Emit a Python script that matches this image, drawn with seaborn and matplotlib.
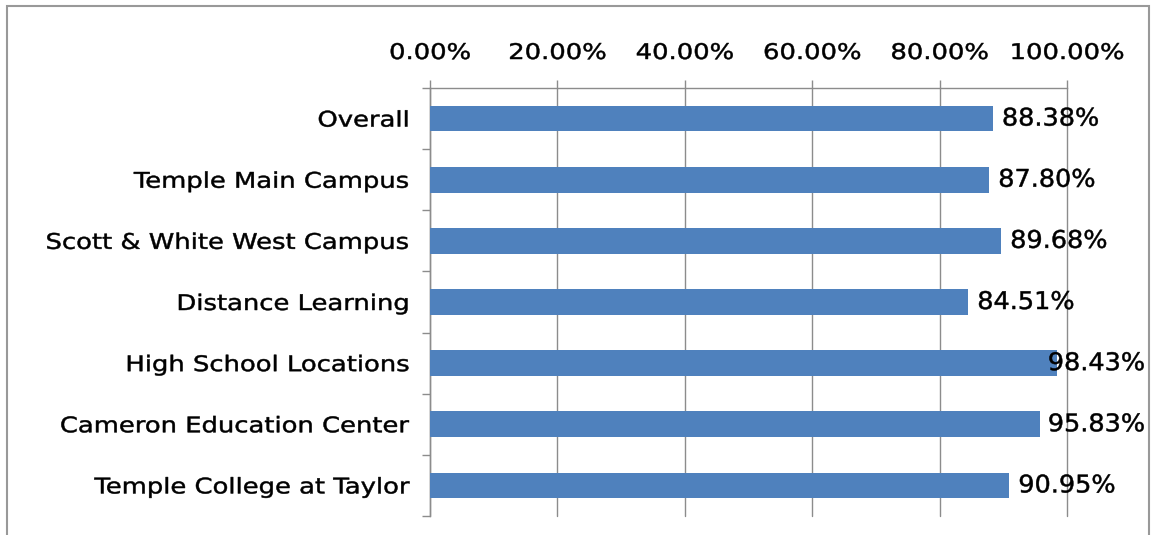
import matplotlib
matplotlib.use("Agg")
import numpy as np
import matplotlib.pyplot as plt
import matplotlib.patches as patches
from matplotlib.ticker import FixedLocator, PercentFormatter
from matplotlib.patheffects import AbstractPathEffect
from matplotlib.path import Path
from matplotlib.transforms import IdentityTransform
import seaborn as sns
import pandas as pd

categories = ["Overall", "Temple Main Campus", "Scott & White West Campus",
              "Distance Learning", "High School Locations",
              "Cameron Education Center", "Temple College at Taylor"]
values = [88.38, 87.80, 89.68, 84.51, 98.43, 95.83, 90.95]
x_ticks = [0, 20, 40, 60, 80, 100]

df = pd.DataFrame({"category": categories, "value": values})


class HStretch(AbstractPathEffect):
    """Widen rendered text horizontally about an anchor (emulates wide tracking)."""
    def __init__(self, sx, anchor, stroke=0.35):
        super().__init__()
        self.sx = sx
        self.anchor = anchor
        self.stroke = stroke

    def draw_path(self, renderer, gc, tpath, affine, rgbFace=None):
        verts = affine.transform(tpath.vertices).copy()
        codes = tpath.codes
        if codes is not None:
            mask = codes != Path.CLOSEPOLY
        else:
            mask = np.ones(len(verts), bool)
        if mask.any():
            xs = verts[mask, 0]
            xmin, xmax = xs.min(), xs.max()
            ref = {"left": xmin, "right": xmax, "center": 0.5 * (xmin + xmax)}[self.anchor]
            verts[:, 0] = ref + (verts[:, 0] - ref) * self.sx
        gc0 = renderer.new_gc()
        gc0.copy_properties(gc)
        gc0.set_linewidth(self.stroke)
        if rgbFace is not None:
            gc0.set_foreground(rgbFace)
        renderer.draw_path(gc0, Path(verts, codes), IdentityTransform(), rgbFace)
        gc0.restore()


sns.set_theme(style="white")
plt.rcParams['font.family'] = ['DejaVu Sans']

fig = plt.figure(figsize=(11.51, 5.35), dpi=100)
ax = fig.add_axes([430/1151, 1-516/535, (1067-430)/1151, (516-88)/535])

sns.barplot(data=df, y="category", x="value", orient="h", color="#4F81BD",
            saturation=1, width=0.42, ax=ax, zorder=3, linewidth=0, edgecolor="none")

grid_c = "#8c8c8c"
fs = 15.5
sx = 1.2
ax.set_xlim(0, 100)
ax.set_ylim(len(categories)-0.5, -0.5)
ax.xaxis.set_major_locator(FixedLocator(x_ticks))
ax.xaxis.set_major_formatter(PercentFormatter(decimals=2))
ax.xaxis.tick_top()
ax.xaxis.set_label_position("top")
ax.set_xlabel("")
ax.set_ylabel("")
ax.grid(axis="x", color=grid_c, linewidth=1, zorder=0)
for gl in ax.get_xgridlines():
    gl.set_clip_on(False)
ax.set_axisbelow(True)

ax.set_yticks(range(len(categories)))
ax.set_yticklabels(categories)
ax.set_yticks([i - 0.5 for i in range(len(categories)+1)], minor=True)
ax.tick_params(axis="y", which="major", length=0, pad=15, labelsize=fs, labelcolor="black")
ax.tick_params(axis="y", which="minor", length=6, width=1, color=grid_c, direction="out", left=True)
ax.tick_params(axis="x", which="major", length=6, width=1, color=grid_c, direction="out",
               top=True, bottom=False, labeltop=True, labelbottom=False, pad=12,
               labelsize=fs, labelcolor="black")

for s in ["right", "bottom"]:
    ax.spines[s].set_visible(False)
for s in ["left", "top"]:
    ax.spines[s].set_visible(True)
    ax.spines[s].set_color(grid_c)
    ax.spines[s].set_linewidth(1)

lab_sx = 1.05
pad_pt = 6.5
bl = ax.bar_label(ax.containers[0], labels=[f"{v:.2f}%" for v in values], padding=pad_pt,
                  fontsize=17.5, color="black")
for t in bl:
    t.set_path_effects([HStretch(lab_sx, "left")])

rect = patches.Rectangle((7/1151, -0.1), (1149-7)/1151, 1.1-6/535, transform=fig.transFigure,
                         fill=False, edgecolor="#999999", linewidth=1.5, clip_on=False)
fig.patches.append(rect)

fig.canvas.draw()
renderer = fig.canvas.get_renderer()
right_limit = 1145
for t in bl:
    bb = t.get_window_extent(renderer)
    right = bb.x0 + bb.width * lab_sx
    if right > right_limit:
        shift_px = right - right_limit
        ox, oy = t.xyann
        t.xyann = (ox - shift_px * 72 / fig.dpi, oy)

for t in ax.get_yticklabels():
    t.set_path_effects([HStretch(sx, "right")])
for t in ax.get_xticklabels():
    t.set_path_effects([HStretch(sx, "center")])

fig.savefig("out.png", dpi=100, facecolor="white")
